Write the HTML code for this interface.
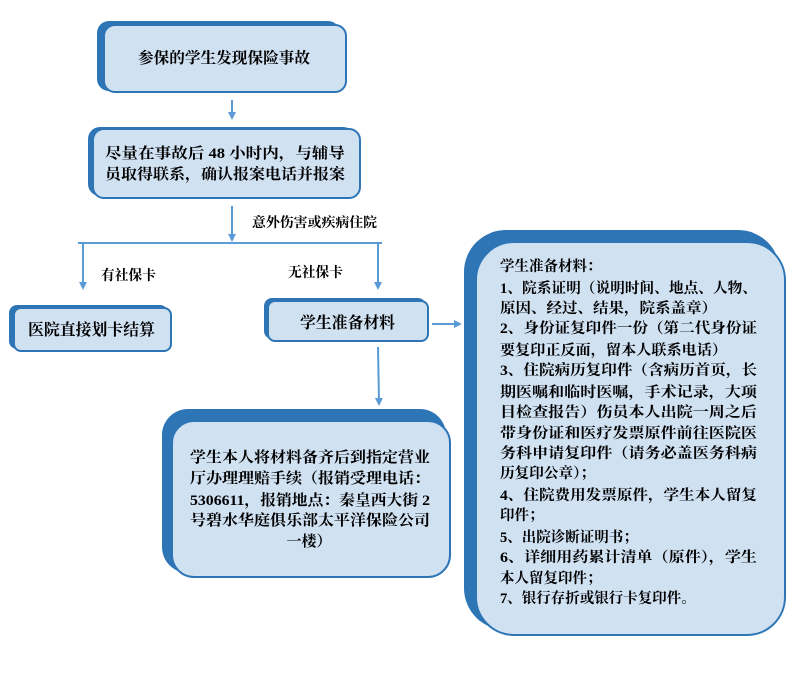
<!DOCTYPE html>
<html><head><meta charset="utf-8"><style>
html,body{margin:0;padding:0;background:#fff;}
svg{display:block;}
text{font-family:"Liberation Serif","Noto Serif CJK SC","Noto Sans CJK SC",serif;font-weight:bold;fill:#000;}
</style></head><body>
<svg width="789" height="697" viewBox="0 0 789 697" xmlns="http://www.w3.org/2000/svg">
<defs>
<marker id="a" markerWidth="8" markerHeight="8" refX="4" refY="4" orient="auto" markerUnits="userSpaceOnUse">
<path d="M0,0 L8,4 L0,8 z" fill="#5b9bd5"/></marker>
</defs>
<g fill="#2e75b6">
<rect x="97" y="21" width="243" height="70" rx="12"/>
<rect x="88" y="127" width="267" height="69" rx="12"/>
<rect x="9" y="305" width="159" height="44" rx="8"/>
<rect x="264" y="298" width="162" height="41" rx="8"/>
<rect x="162" y="409" width="284" height="164" rx="26"/>
<rect x="464" y="230" width="316" height="400" rx="42"/>
</g>
<g fill="#d0e1f2" stroke="#2e75b6" stroke-width="2">
<rect x="104" y="25" width="242" height="67" rx="11"/>
<rect x="93" y="129" width="267" height="69" rx="11"/>
<rect x="14" y="308" width="157" height="43" rx="7"/>
<rect x="268" y="301" width="160" height="40" rx="7"/>
<rect x="172" y="421" width="278" height="156" rx="22"/>
<rect x="476" y="242" width="309" height="393" rx="38"/>
</g>
<g stroke="#5b9bd5" stroke-width="2" fill="none">
<line x1="232" y1="100" x2="232" y2="116" marker-end="url(#a)"/>
<line x1="232" y1="206" x2="232" y2="238" marker-end="url(#a)"/>
<line x1="78" y1="243" x2="382" y2="243"/>
<line x1="83" y1="243" x2="83" y2="286" marker-end="url(#a)"/>
<line x1="378" y1="243" x2="378" y2="286" marker-end="url(#a)"/>
<line x1="432" y1="324" x2="458" y2="324" marker-end="url(#a)"/>
<line x1="378" y1="347" x2="379" y2="402" marker-end="url(#a)"/>
</g>
<text x="138" y="63" font-size="15.5" textLength="172" lengthAdjust="spacingAndGlyphs">参保的学生发现保险事故</text>
<text x="105" y="158" font-size="15" textLength="240" lengthAdjust="spacingAndGlyphs">尽量在事故后 48 小时内，与辅导</text>
<text x="105" y="179" font-size="15" textLength="240" lengthAdjust="spacingAndGlyphs">员取得联系，确认报案电话并报案</text>
<text x="252" y="227" font-size="13.5" textLength="125" lengthAdjust="spacingAndGlyphs">意外伤害或疾病住院</text>
<text x="101" y="280" font-size="14" textLength="55" lengthAdjust="spacingAndGlyphs">有社保卡</text>
<text x="288" y="277" font-size="14" textLength="55" lengthAdjust="spacingAndGlyphs">无社保卡</text>
<text x="28" y="335" font-size="16" textLength="127" lengthAdjust="spacingAndGlyphs">医院直接划卡结算</text>
<text x="300" y="328" font-size="16" textLength="95" lengthAdjust="spacingAndGlyphs">学生准备材料</text>
<g font-size="15">
<text x="190" y="462" textLength="240" lengthAdjust="spacingAndGlyphs">学生本人将材料备齐后到指定营业</text>
<text x="190" y="483" textLength="240" lengthAdjust="spacingAndGlyphs">厅办理理赔手续（报销受理电话：</text>
<text x="190" y="505" textLength="240" lengthAdjust="spacingAndGlyphs">5306611，报销地点：秦皇西大街 2</text>
<text x="190" y="525" textLength="240" lengthAdjust="spacingAndGlyphs">号碧水华庭俱乐部太平洋保险公司</text>
<text x="309" y="546" text-anchor="middle">一楼）</text>
</g>
<g font-size="14.5">
<text x="500" y="271">学生准备材料：</text>
<text x="500" y="293" textLength="257" lengthAdjust="spacingAndGlyphs">1、院系证明（说明时间、地点、人物、</text>
<text x="500" y="313" textLength="217" lengthAdjust="spacingAndGlyphs">原因、经过、结果，院系盖章）</text>
<text x="500" y="333" textLength="257" lengthAdjust="spacingAndGlyphs">2、身份证复印件一份（第二代身份证</text>
<text x="500" y="355" textLength="227" lengthAdjust="spacingAndGlyphs">要复印正反面，留本人联系电话）</text>
<text x="500" y="375" textLength="257" lengthAdjust="spacingAndGlyphs">3、住院病历复印件（含病历首页，长</text>
<text x="500" y="397" textLength="257" lengthAdjust="spacingAndGlyphs">期医嘱和临时医嘱，手术记录，大项</text>
<text x="500" y="417" textLength="257" lengthAdjust="spacingAndGlyphs">目检查报告）伤员本人出院一周之后</text>
<text x="500" y="438" textLength="257" lengthAdjust="spacingAndGlyphs">带身份证和医疗发票原件前往医院医</text>
<text x="500" y="458" textLength="257" lengthAdjust="spacingAndGlyphs">务科申请复印件（请务必盖医务科病</text>
<text x="500" y="478" textLength="95" lengthAdjust="spacingAndGlyphs">历复印公章）；</text>
<text x="500" y="500" textLength="257" lengthAdjust="spacingAndGlyphs">4、住院费用发票原件，学生本人留复</text>
<text x="500" y="520">印件；</text>
<text x="500" y="542">5、出院诊断证明书；</text>
<text x="500" y="562" textLength="257" lengthAdjust="spacingAndGlyphs">6、详细用药累计清单（原件），学生</text>
<text x="500" y="583">本人留复印件；</text>
<text x="500" y="603">7、银行存折或银行卡复印件。</text>
</g>
</svg>
</body></html>
